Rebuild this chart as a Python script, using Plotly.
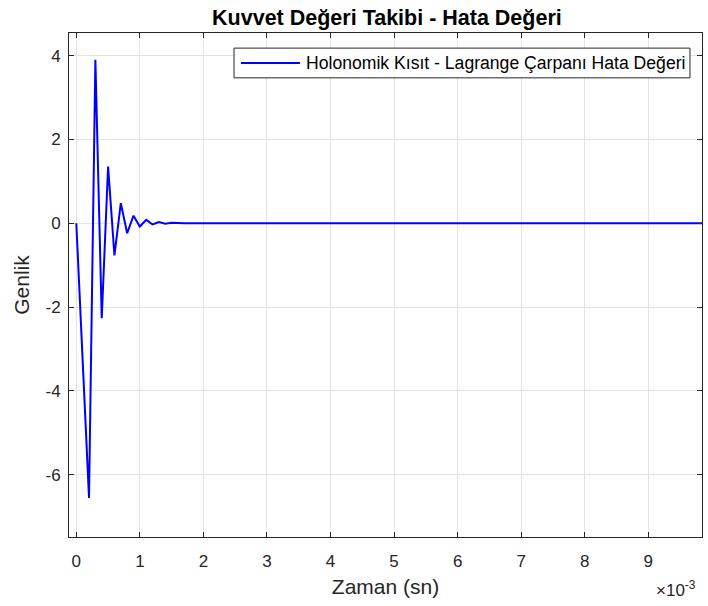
import plotly.graph_objects as go

# ---- data ----
time_step = 1e-4
n_points = 100
time_s = [k * time_step for k in range(n_points)]
error_values = [
    0.0, -3.28, -6.56, 3.90, -2.27, 1.35, -0.77, 0.48, -0.24, 0.18,
    -0.08, 0.08, -0.03, 0.03, -0.01, 0.01, 0.0, 0.0, 0.0, 0.0,
    0.0, 0.0, 0.0, 0.0, 0.0, 0.0, 0.0, 0.0, 0.0, 0.0,
    0.0, 0.0, 0.0, 0.0, 0.0, 0.0, 0.0, 0.0, 0.0, 0.0,
    0.0, 0.0, 0.0, 0.0, 0.0, 0.0, 0.0, 0.0, 0.0, 0.0,
    0.0, 0.0, 0.0, 0.0, 0.0, 0.0, 0.0, 0.0, 0.0, 0.0,
    0.0, 0.0, 0.0, 0.0, 0.0, 0.0, 0.0, 0.0, 0.0, 0.0,
    0.0, 0.0, 0.0, 0.0, 0.0, 0.0, 0.0, 0.0, 0.0, 0.0,
    0.0, 0.0, 0.0, 0.0, 0.0, 0.0, 0.0, 0.0, 0.0, 0.0,
    0.0, 0.0, 0.0, 0.0, 0.0, 0.0, 0.0, 0.0, 0.0, 0.0,
]
x_tick_vals = [0, 1e-3, 2e-3, 3e-3, 4e-3, 5e-3, 6e-3, 7e-3, 8e-3, 9e-3]
x_tick_text = ["0", "1", "2", "3", "4", "5", "6", "7", "8", "9"]
y_tick_vals = [-6, -4, -2, 0, 2, 4]
y_tick_text = ["-6", "-4", "-2", "0", "2", "4"]

series_name = "Holonomik Kısıt - Lagrange Çarpanı Hata Değeri"
title_text = "Kuvvet Değeri Takibi - Hata Değeri"
x_title = "Zaman (sn)"
y_title = "Genlik"

FONT = "Liberation Sans, Arial, sans-serif"
AXC = "#262626"
GRID = "#e3e3e3"
LINE_COLOR = "#0000ff"

fig = go.Figure()
fig.add_trace(go.Scatter(
    x=time_s, y=error_values, mode="lines", name=series_name,
    line=dict(color=LINE_COLOR, width=2), showlegend=False,
))

fig.update_layout(
    width=708, height=606,
    margin=dict(l=69, r=6, t=33, b=69),
    paper_bgcolor="white", plot_bgcolor="white",
    font=dict(family=FONT, color=AXC, size=14),
    title=dict(text="<b>" + title_text + "</b>", x=0.5465, xanchor="center",
               y=1 - 17 / 606, yanchor="middle",
               font=dict(size=21.5, color="#000000", family=FONT)),
    showlegend=False,
)

fig.update_xaxes(
    range=[-0.115e-3, 9.845e-3],
    tickvals=x_tick_vals, ticktext=x_tick_text,
    ticks="inside", ticklen=5, tickcolor=AXC, tickwidth=1,
    showline=True, linecolor=AXC, linewidth=1, mirror="allticks",
    showgrid=True, gridcolor=GRID, gridwidth=1, zeroline=False,
    tickfont=dict(size=17, color=AXC, family=FONT),
    ticklabelstandoff=9,
    title=dict(text=x_title, font=dict(size=21, color=AXC, family=FONT), standoff=8),
)
fig.update_yaxes(
    range=[-7.49, 4.54],
    tickvals=y_tick_vals, ticktext=y_tick_text,
    ticks="inside", ticklen=5, tickcolor=AXC, tickwidth=1,
    showline=True, linecolor=AXC, linewidth=1, mirror="allticks",
    showgrid=True, gridcolor=GRID, gridwidth=1, zeroline=False,
    tickfont=dict(size=17, color=AXC, family=FONT),
    ticklabelstandoff=4,
    title=dict(text=y_title, font=dict(size=21, color=AXC, family=FONT), standoff=10),
)

# exponent label of the x axis
fig.add_annotation(
    xref="paper", yref="paper", x=1.0, y=0, xanchor="right", yanchor="middle",
    yshift=-52, xshift=-4,
    text="×10<sup>-3</sup>", showarrow=False,
    font=dict(size=17, color=AXC, family=FONT),
)

# legend box (MATLAB style, long line sample)
fig.add_shape(type="rect", xref="paper", yref="paper",
              x0=0.2607, x1=0.981, y0=0.911, y1=0.970,
              line=dict(color=AXC, width=1), fillcolor="white", layer="above")
fig.add_shape(type="line", xref="paper", yref="paper",
              x0=0.2717, x1=0.3649, y0=0.9405, y1=0.9405,
              line=dict(color=LINE_COLOR, width=2), layer="above")
fig.add_annotation(
    xref="paper", yref="paper", x=0.3712, y=0.9405, xanchor="left", yanchor="middle",
    text=series_name, showarrow=False,
    font=dict(size=17.6, color="#000000", family=FONT),
)

fig.write_html("out.html")
